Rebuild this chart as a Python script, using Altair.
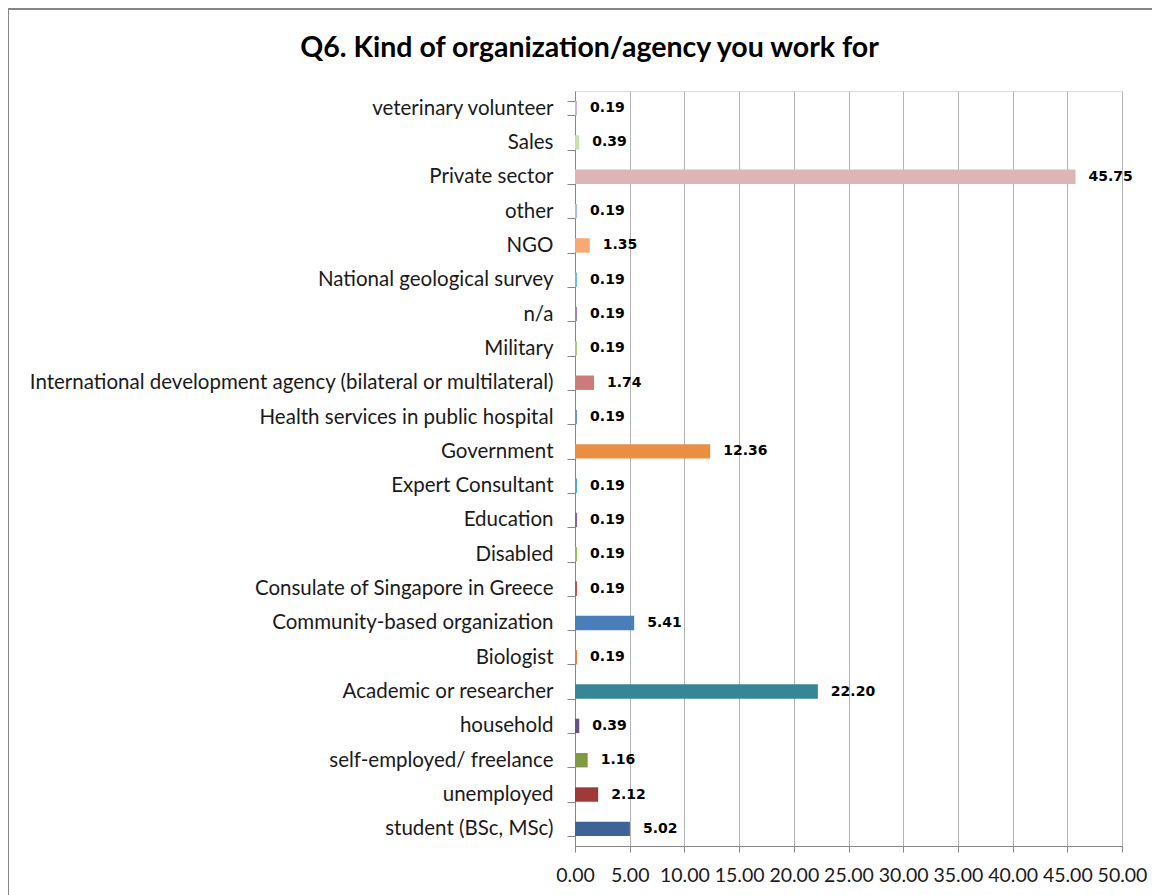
import altair as alt
import pandas as pd

categories = [
    "veterinary volunteer", "Sales", "Private sector", "other", "NGO",
    "National geological survey", "n/a", "Military ",
    "International development agency (bilateral or multilateral)",
    "Health services in public hospital", "Government", "Expert Consultant",
    "Education", "Disabled ", "Consulate of Singapore in Greece",
    "Community-based organization", "Biologist", "Academic or researcher",
    "household", "self-employed/ freelance", "unemployed", "student (BSc, MSc)",
]
values = [0.19, 0.39, 45.75, 0.19, 1.35, 0.19, 0.19, 0.19, 1.74, 0.19, 12.36,
          0.19, 0.19, 0.19, 0.19, 5.41, 0.19, 22.20, 0.39, 1.16, 2.12, 5.02]
colors = [
    "#C4B8D6", "#CCDDB0", "#DDB5B5", "#A9BEE0", "#F8A973",
    "#6FBDD4", "#9C86B7", "#AFCB80", "#CB7B79",
    "#7394CD", "#E88F42", "#4BACC6",
    "#8064A2", "#9BBB59", "#C0504D",
    "#4A7EBB", "#DB843D", "#378697",
    "#6A5286", "#7E9A45", "#9E3B39", "#3E6497",
]
x_ticks = [0, 5, 10, 15, 20, 25, 30, 35, 40, 45, 50]

df = pd.DataFrame({"cat": categories, "val": values})
df["label"] = df["val"].map(lambda v: f"{v:.2f}")

FONT = "Lato"

y_enc = alt.Y("cat:N", sort=categories, title=None,
              scale=alt.Scale(paddingInner=0.58, paddingOuter=0.29),
              axis=alt.Axis(labelFontSize=20.5, labelFont=FONT, labelColor="#1A1A1A",
                            labelLimit=900, labelPadding=14, tickBand="extent",
                            tickSize=8, tickColor="#868686", domainColor="#868686",
                            grid=False))
x_enc = alt.X("val:Q", title=None,
              scale=alt.Scale(domain=[0, 50], nice=False),
              axis=alt.Axis(values=x_ticks, format=".2f",
                            labelFontSize=19.5, labelFont=FONT, labelColor="#1A1A1A",
                            labelPadding=14, tickSize=6, tickColor="#868686",
                            domainColor="#868686", gridColor="#B3B3B3",
                            gridWidth=1, labelFlush=False, labelOverlap=False))

bars = alt.Chart(df).mark_bar().encode(
    x=x_enc, y=y_enc,
    color=alt.Color("cat:N", scale=alt.Scale(domain=categories, range=colors), legend=None),
)
texts = alt.Chart(df).mark_text(align="left", dx=13, fontSize=14, fontWeight="bold",
                                font="DejaVu Sans", color="#000000").encode(
    x="val:Q", y=alt.Y("cat:N", sort=categories), text="label:N")

frame = alt.Chart(pd.DataFrame({"f": [0]})).mark_rect(
    fill=None, stroke="#878787", strokeWidth=2).encode(
    x=alt.value(-567), x2=alt.value(620), y=alt.value(-82), y2=alt.value(830))

chart = (frame + bars + texts).properties(
    width=547, height=755,
    title=alt.TitleParams("Q6. Kind of organization/agency you work for",
                          fontSize=28.5, font=FONT, fontWeight="bold", color="#000000",
                          anchor="middle", frame="group", dx=-259, offset=-54),
    autosize=alt.AutoSizeParams(type="none"),
    padding={"left": 567, "top": 83, "right": 30, "bottom": 55},
).configure_view(stroke=None).configure(background="#FFFFFF")

chart.save("out.html", embed_options={"renderer": "svg", "actions": False})
